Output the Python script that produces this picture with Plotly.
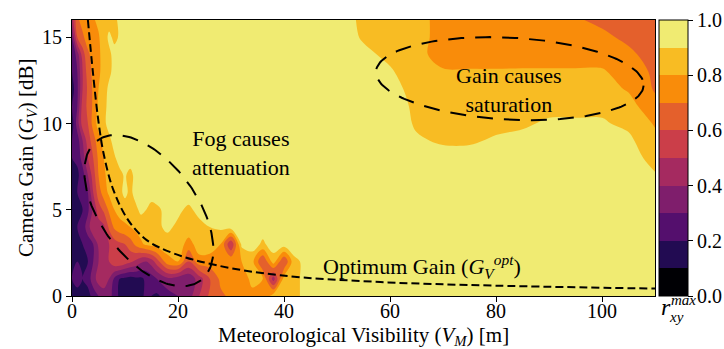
import numpy as np
import plotly.graph_objects as go

# ---------------- data ----------------
Y_GAIN = [0, 1, 2, 3, 4, 5, 6, 7, 8, 9, 10, 11, 12, 13, 14, 15, 16]
X_LEFT = [0, 1, 2, 3, 4, 5, 6, 7, 8, 9, 10, 11, 12, 13, 14, 15, 16,
          18, 20, 22, 24, 26, 28, 30, 32, 34, 36, 38, 40, 42, 44, 46]
X_RIGHT = [50, 55, 60, 65, 70, 75, 80, 85, 90, 95, 100, 105, 110]

# r_xy^max for x in X_LEFT, one row per gain value (y = 0 ... 16)
Z_LEFT = [
    [.20, .15, .20, .15, .25, .30, .32, .35, .25, .18, .15, .12, .15, .18, .22, .20, .18,
     .25, .30, .35, .50, .62, .68, .72, .75, .78, .72, .85, .86, .88, .92, .95],
    [.20, .25, .20, .25, .35, .45, .50, .40, .28, .20, .18, .16, .18, .18, .22, .25, .30,
     .38, .35, .32, .45, .60, .72, .75, .76, .82, .80, .45, .84, .87, .93, .95],
    [.20, .20, .15, .20, .30, .40, .45, .50, .58, .60, .56, .52, .48, .42, .40, .45, .55,
     .76, .80, .60, .76, .76, .75, .78, .80, .83, .60, .85, .60, .88, .92, .95],
    [.15, .20, .20, .25, .30, .42, .45, .50, .55, .58, .60, .65, .72, .78, .82, .84, .85,
     .86, .87, .75, .86, .85, .80, .50, .92, .95, .88, .95, .95, .95, .95, .95],
    [.20, .20, .25, .35, .50, .45, .48, .62, .72, .76, .78, .80, .83, .85, .86, .87, .88,
     .92, .88, .88, .87, .90, .92, .95, .95, .95, .95, .95, .95, .95, .95, .95],
    [.20, .15, .20, .28, .42, .55, .62, .72, .80, .84, .86, .87, .88, .92, .90, .86, .88,
     .93, .92, .88, .93, .95, .95, .95, .95, .95, .95, .95, .95, .95, .95, .95],
    [.15, .20, .25, .30, .50, .65, .75, .82, .85, .88, .92, .88, .93, .95, .95, .95, .95,
     .95, .95, .95, .95, .95, .95, .95, .95, .95, .95, .95, .95, .95, .95, .95],
    [.20, .18, .25, .40, .55, .70, .78, .84, .86, .88, .91, .87, .93, .95, .95, .95, .95,
     .95, .95, .95, .95, .95, .95, .95, .95, .95, .95, .95, .95, .95, .95, .95],
    [.20, .22, .35, .50, .60, .72, .80, .86, .89, .93, .95, .95, .95, .95, .95, .95, .95,
     .95, .95, .95, .95, .95, .95, .95, .95, .95, .95, .95, .95, .95, .95, .95],
    [.20, .25, .40, .55, .65, .76, .84, .88, .93, .95, .95, .95, .95, .95, .95, .95, .95,
     .95, .95, .95, .95, .95, .95, .95, .95, .95, .95, .95, .95, .95, .95, .95],
    [.15, .35, .55, .60, .74, .84, .88, .93, .95, .95, .95, .95, .95, .95, .95, .95, .95,
     .95, .95, .95, .95, .95, .95, .95, .95, .95, .95, .95, .95, .95, .95, .95],
    [.20, .30, .55, .62, .72, .82, .87, .93, .95, .95, .95, .95, .95, .95, .95, .95, .95,
     .95, .95, .95, .95, .95, .95, .95, .95, .95, .95, .95, .95, .95, .95, .95],
    [.15, .28, .50, .62, .72, .80, .86, .92, .95, .95, .95, .95, .95, .95, .95, .95, .95,
     .95, .95, .95, .95, .95, .95, .95, .95, .95, .95, .95, .95, .95, .95, .95],
    [.20, .30, .50, .65, .73, .78, .84, .88, .93, .95, .95, .95, .95, .95, .95, .95, .95,
     .95, .95, .95, .95, .95, .95, .95, .95, .95, .95, .95, .95, .95, .95, .95],
    [.20, .35, .55, .68, .74, .78, .84, .88, .93, .95, .95, .95, .95, .95, .95, .95, .95,
     .95, .95, .95, .95, .95, .95, .95, .95, .95, .95, .95, .95, .95, .95, .95],
    [.30, .60, .68, .75, .77, .79, .85, .92, .88, .91, .95, .95, .95, .95, .95, .95, .95,
     .95, .95, .95, .95, .95, .95, .95, .95, .95, .95, .95, .95, .95, .95, .95],
    [.45, .68, .74, .76, .79, .82, .85, .86, .88, .92, .95, .95, .95, .95, .95, .95, .95,
     .95, .95, .95, .95, .95, .95, .95, .95, .95, .95, .95, .95, .95, .95, .95],
]

# r_xy^max for x in X_RIGHT, one row per gain value (y = 0 ... 16)
Z_RIGHT = [
    [.95, .95, .95, .95, .95, .95, .95, .95, .95, .95, .95, .95, .95],
    [.95, .95, .95, .95, .95, .95, .95, .95, .95, .95, .95, .95, .95],
    [.95, .95, .95, .95, .95, .95, .95, .95, .95, .95, .95, .95, .95],
    [.95, .95, .95, .95, .95, .95, .95, .95, .95, .95, .95, .95, .95],
    [.95, .95, .95, .95, .95, .95, .95, .95, .95, .95, .95, .95, .95],
    [.95, .95, .95, .95, .95, .95, .95, .95, .95, .95, .95, .95, .95],
    [.95, .95, .95, .95, .95, .95, .95, .95, .95, .95, .95, .95, .94],
    [.95, .95, .95, .95, .95, .95, .95, .95, .95, .95, .95, .95, .91],
    [.95, .95, .95, .93, .93, .93, .94, .95, .95, .95, .95, .95, .86],
    [.95, .95, .95, .91, .89, .89, .91, .92, .93, .94, .94, .92, .83],
    [.95, .95, .95, .89, .87, .87, .88, .89, .91, .91, .91, .88, .79],
    [.95, .95, .95, .88, .85, .85, .86, .87, .88, .88, .88, .84, .73],
    [.95, .95, .93, .87, .83, .83, .83, .84, .84, .84, .84, .79, .69],
    [.95, .95, .91, .85, .81, .81, .81, .81, .81, .81, .81, .76, .68],
    [.95, .92, .88, .83, .76, .75, .75, .76, .76, .76, .76, .72, .66],
    [.95, .89, .87, .83, .77, .75, .74, .74, .74, .73, .72, .68, .64],
    [.95, .88, .86, .82, .78, .76, .75, .74, .73, .71, .68, .66, .62],
]

# Optimum gain curve
OPT_V = [3.0, 4.0, 5.0, 6.0, 7.8, 10.6, 14.1, 19.2, 27.3, 39.3, 58.2, 80.0, 110.0]
OPT_G = [16.0, 12.8, 10.1, 8.2, 6.15, 4.4, 3.24, 2.47, 1.78, 1.2, 0.81, 0.6, 0.43]

X_TICKS = [0, 20, 40, 60, 80, 100]
Y_TICKS = [0, 5, 10, 15]
CB_TICKS = [0.0, 0.2, 0.4, 0.6, 0.8, 1.0]
CB_RANGE = [0.0, 1.0]

# ---------------- styling ----------------
BAND_COLORS = ['#000004', '#220b52', '#540f6d', '#7f1e6c', '#a52a60',
               '#cb3e49', '#e4602c', '#f98c0a', '#f8bc23', '#f0eb72']
FONT = 'Liberation Serif'

X_ALL = X_LEFT + X_RIGHT
Z_ALL = [l + r for l, r in zip(Z_LEFT, Z_RIGHT)]

# smooth mapping used by the filled contour (band k -> k/9)
contour_scale = [[k / 9, c] for k, c in enumerate(BAND_COLORS)]
# stepped scale for the colour bar (band k spans k/10 .. (k+1)/10)
bar_scale = []
for k, c in enumerate(BAND_COLORS):
    bar_scale.append([k / 10, c])
    bar_scale.append([(k + 1) / 10, c])

W, H = 724, 349
ML, MR, MT, MB = 72, 69, 20, 53
plot_w = W - ML - MR
plot_h = H - MT - MB
SX = plot_w / 110.0   # px per unit x
SY = plot_h / 16.0    # px per unit y

fig = go.Figure()
fig.add_trace(go.Contour(
    x=X_ALL, y=Y_GAIN, z=Z_ALL,
    colorscale=contour_scale,
    autocontour=False,
    contours=dict(start=0.1, end=0.9, size=0.1, coloring='fill', showlines=False),
    line=dict(width=0),
    showscale=False,
    hoverinfo='skip',
))

# invisible carrier for the colour bar
fig.add_trace(go.Scatter(
    x=[-50, -50], y=[-50, -50], mode='markers',
    marker=dict(color=CB_RANGE, cmin=0, cmax=1, colorscale=bar_scale, opacity=0,
                showscale=True,
                colorbar=dict(
                    thickness=29, len=1.0, lenmode='fraction', y=0.5, yanchor='middle',
                    x=1.007, xanchor='left', xpad=0, ypad=0,
                    outlinewidth=1, outlinecolor='black',
                    ticks='outside', ticklen=5, tickwidth=1, tickcolor='black',
                    tickvals=CB_TICKS, ticktext=[f'{v:.1f}' for v in CB_TICKS],
                    tickfont=dict(family=FONT, size=20, color='black'),
                )),
    showlegend=False, hoverinfo='skip',
))

# optimum gain curve
fig.add_trace(go.Scatter(
    x=OPT_V, y=OPT_G, mode='lines',
    line=dict(color='black', width=2, dash='8px,4px', shape='spline'),
    showlegend=False, hoverinfo='skip',
))


def ellipse(cx, cy, a_px, b_px, theta_deg, n=200):
    t = np.linspace(0, 2 * np.pi, n)
    th = np.deg2rad(theta_deg)
    u = a_px * np.cos(t) * np.cos(th) - b_px * np.sin(t) * np.sin(th)
    v = a_px * np.cos(t) * np.sin(th) + b_px * np.sin(t) * np.cos(th)
    return cx + u / SX, cy - v / SY


# annotation ellipses (center in data units, axes in screen pixels)
fx, fy = ellipse(14.5, 4.95, 87, 48, 53.6)
sx_, sy_ = ellipse(82.6, 12.6, 134, 41, 3.0)
for ex, ey in [(fx, fy), (sx_, sy_)]:
    fig.add_trace(go.Scatter(
        x=ex, y=ey, mode='lines',
        line=dict(color='black', width=2, dash='16px,11px'),
        showlegend=False, hoverinfo='skip',
    ))

ann_font = dict(family=FONT, size=22, color='black')
fig.add_annotation(x=31.8, y=8.3, text='Fog causes<br>attenuation', showarrow=False,
                   font=ann_font, xref='x', yref='y')
fig.add_annotation(x=82.4, y=11.96, text='Gain causes<br>saturation', showarrow=False,
                   font=ann_font, xref='x', yref='y')
fig.add_annotation(x=66.0, y=1.7,
                   text='Optimum Gain (<i>G</i><sub><i>V</i></sub><sup><i>opt</i></sup>)',
                   showarrow=False, font=ann_font, xref='x', yref='y')


def paper(px, py):
    return (px - ML) / plot_w, (H - MB - py) / plot_h


# colorbar label r_xy^max
for txt, (qx, qy), size in [('<i>r</i>', (666, 307), 24),
                            ('<i>max</i>', (683, 300), 15),
                            ('<i>xy</i>', (676, 317), 15)]:
    ax_, ay_ = paper(qx, qy)
    fig.add_annotation(x=ax_, y=ay_, xref='paper', yref='paper', showarrow=False,
                       xanchor='center', yanchor='middle', text=txt,
                       font=dict(family=FONT, size=size, color='black'))

# axis titles
title_font = dict(family=FONT, size=21, color='black')
ax_, ay_ = paper(ML + plot_w / 2, 336)
fig.add_annotation(x=ax_, y=ay_, xref='paper', yref='paper', showarrow=False,
                   xanchor='center', yanchor='middle', font=title_font,
                   text='Meteorological Visibility (<i>V<sub>M</sub></i>) [m]')
ax_, ay_ = paper(27, MT + plot_h / 2)
fig.add_annotation(x=ax_, y=ay_, xref='paper', yref='paper', showarrow=False,
                   xanchor='center', yanchor='middle', textangle=-90, font=title_font,
                   text='Camera Gain (<i>G<sub>V</sub></i>) [dB]')

axis_common = dict(
    ticks='outside', ticklen=5, tickwidth=1, tickcolor='black',
    showline=True, linecolor='black', linewidth=1, mirror=True,
    showgrid=False, zeroline=False,
    tickfont=dict(family=FONT, size=20, color='black'),
)
fig.update_xaxes(range=[0, 110], tickvals=X_TICKS, ticklabelstandoff=-8, **axis_common)
fig.update_yaxes(range=[0, 16], tickvals=Y_TICKS, **axis_common)

fig.update_layout(
    width=W, height=H,
    margin=dict(l=ML, r=MR, t=MT, b=MB, pad=0, autoexpand=False),
    plot_bgcolor='white', paper_bgcolor='white',
    showlegend=False,
    font=dict(family=FONT, size=20, color='black'),
)

fig.write_html(
    'out.html',
    config={'displayModeBar': False, 'staticPlot': True},
    post_script="document.body.style.margin='0';document.body.style.padding='0';"
                "document.body.style.overflow='hidden';",
)
